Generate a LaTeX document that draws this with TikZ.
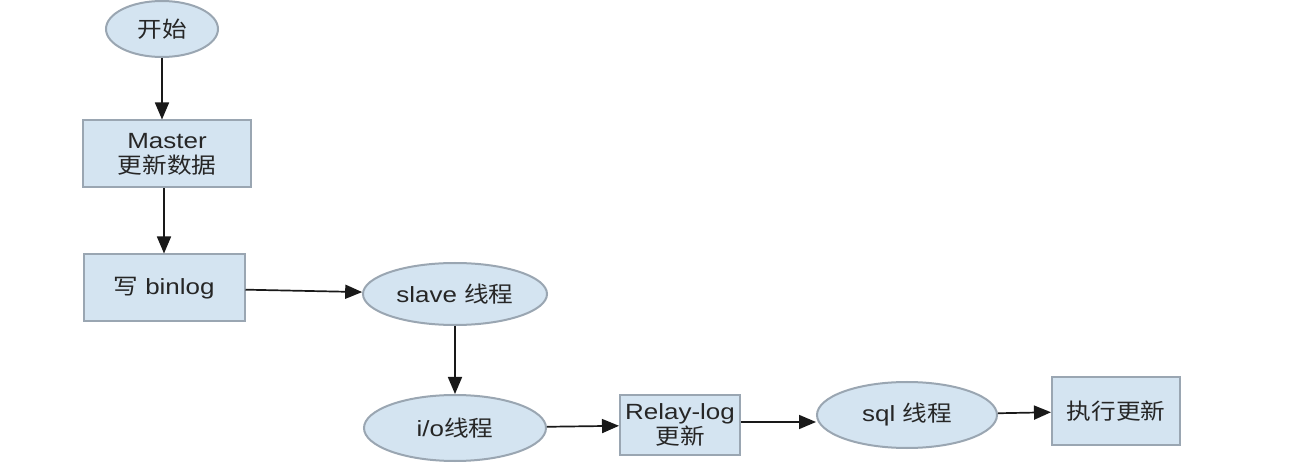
\documentclass[tikz,border=0pt]{standalone}
\usepackage{fontspec}
\setmainfont[FakeStretch=1.18]{Liberation Sans}
\newfontfamily\cjk[FakeStretch=1.12]{Noto Sans CJK SC}
\usetikzlibrary{shapes.geometric,arrows.meta}
\definecolor{nodefill}{HTML}{D4E4F1}
\definecolor{nodeline}{HTML}{9AA6B2}
\definecolor{txt}{HTML}{262626}
\tikzset{
  base/.style={draw=nodeline, line width=2pt, fill=nodefill, text=txt,
    font=\fontsize{22}{25}\selectfont, align=center, inner sep=0pt},
  boxnode/.style={base, rectangle},
  ovalnode/.style={base, ellipse},
  flow/.style={draw=black!90, line width=1.7pt, -{Triangle[length=17pt,width=14pt]}}
}
\begin{document}
\begin{tikzpicture}[x=1pt,y=-1pt]
\useasboundingbox (0,0) rectangle (1302,470);
\fill[white] (0,0) rectangle (1302,470);
\node[ovalnode, minimum width=112pt, minimum height=56pt] (start) at (162,29) {\cjk 开始};
\node[boxnode, minimum width=168pt, minimum height=67pt] (master) at (167,154) {Master\\\cjk 更新数据};
\node[boxnode, minimum width=161pt, minimum height=67pt] (binlog) at (164,288) {\cjk 写\normalfont{} binlog};
\node[ovalnode, minimum width=184pt, minimum height=62pt] (slave) at (455,294) {slave {\cjk 线程}};
\node[ovalnode, minimum width=182pt, minimum height=66pt] (io) at (455,428) {i/o{\cjk 线程}};
\node[boxnode, minimum width=120pt, minimum height=60pt] (relay) at (680,425) {Relay-log\\\cjk 更新};
\node[ovalnode, minimum width=180pt, minimum height=66pt] (sql) at (907,415) {sql {\cjk 线程}};
\node[boxnode, minimum width=128pt, minimum height=67pt] (exec) at (1116,411) {\cjk 执行更新};
\draw[flow] (start.south) -- (start.south |- master.north);
\draw[flow] (master.south -| binlog.north) -- (binlog.north);
\draw[flow] (binlog) -- (slave);
\draw[flow] (slave.south -| io.north) -- (io.north);
\draw[flow] (io) -- (relay);
\draw[flow] (relay.east |- 0,422) -- (sql.west |- 0,422);
\draw[flow] (sql) -- (exec);
\end{tikzpicture}
\end{document}
